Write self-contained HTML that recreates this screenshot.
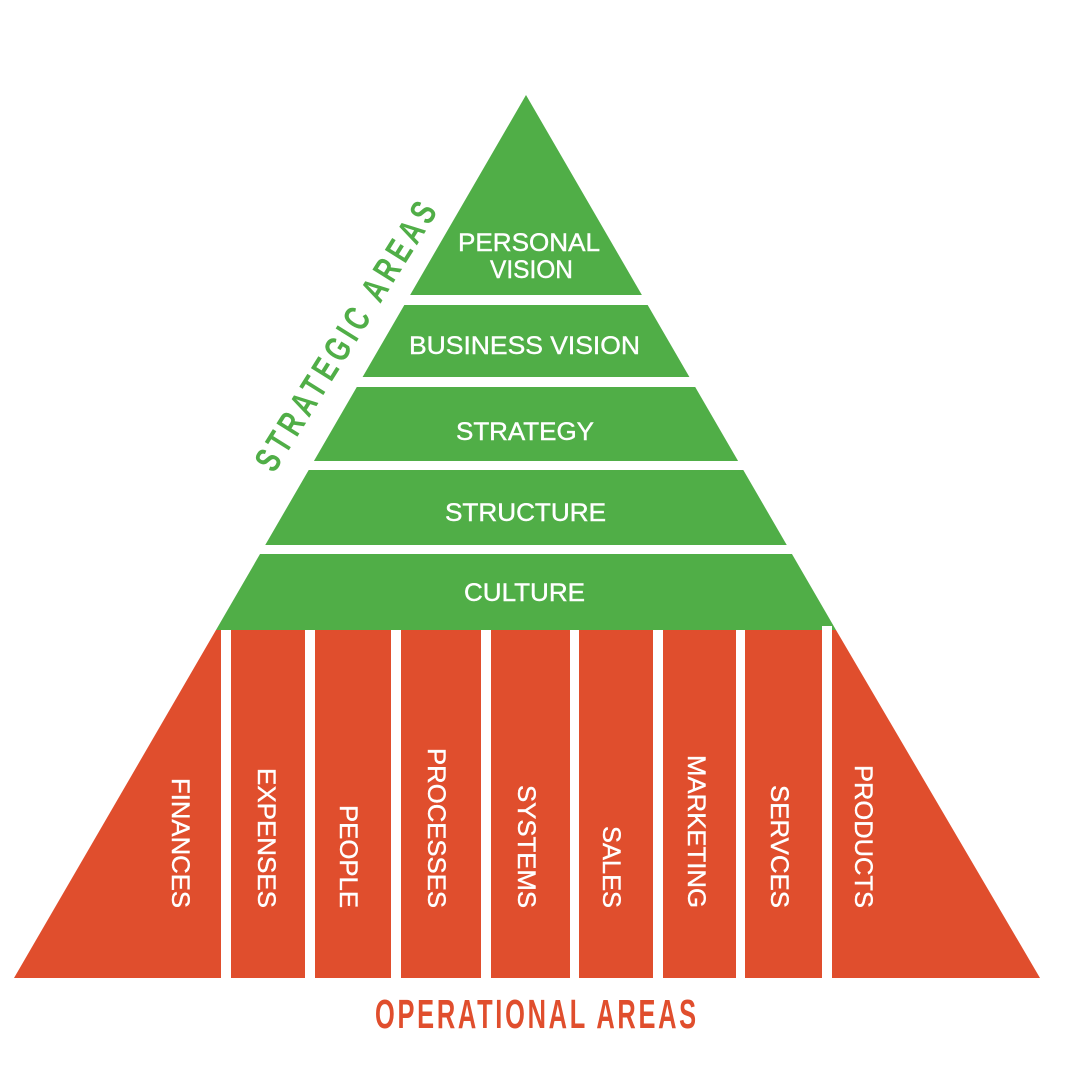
<!DOCTYPE html>
<html><head><meta charset="utf-8"><style>
html,body{margin:0;padding:0;background:#fff;}
svg{display:block;}
text{font-family:"Liberation Sans",Arial,sans-serif;}
</style></head><body>
<svg width="1080" height="1080" viewBox="0 0 1080 1080" xmlns="http://www.w3.org/2000/svg">
<rect width="1080" height="1080" fill="#fff"/>
<polygon points="216,630 836,630 1040,978 14,978" fill="#e04e2d"/>
<polygon points="526,95 836,630 216,630" fill="#50ae47"/>
<g fill="#fff">
<rect x="300" y="295" width="500" height="10"/>
<rect x="250" y="377" width="600" height="10"/>
<rect x="200" y="461" width="700" height="9"/>
<rect x="150" y="545" width="800" height="9"/>
<rect x="221" y="630" width="10" height="350"/>
<rect x="305" y="630" width="10" height="350"/>
<rect x="391" y="630" width="10" height="350"/>
<rect x="481" y="630" width="10" height="350"/>
<rect x="570" y="630" width="9" height="350"/>
<rect x="653" y="630" width="10" height="350"/>
<rect x="736" y="630" width="9" height="350"/>
<rect x="822" y="626" width="10" height="354"/>
</g>
<g fill="#fff" font-size="25" stroke="#fff" stroke-width="0.4">
<text x="458" y="251" textLength="142" lengthAdjust="spacingAndGlyphs">PERSONAL</text>
<text x="490" y="278" textLength="83" lengthAdjust="spacingAndGlyphs">VISION</text>
<text x="409" y="354" textLength="231" lengthAdjust="spacingAndGlyphs">BUSINESS VISION</text>
<text x="456" y="440" textLength="138" lengthAdjust="spacingAndGlyphs">STRATEGY</text>
<text x="445" y="521" textLength="161" lengthAdjust="spacingAndGlyphs">STRUCTURE</text>
<text x="464" y="601" textLength="121" lengthAdjust="spacingAndGlyphs">CULTURE</text>
</g>
<g fill="#fff" font-size="25" stroke="#fff" stroke-width="0.4" text-anchor="end">
<text transform="translate(172,908) rotate(90)" textLength="130" lengthAdjust="spacingAndGlyphs">FINANCES</text>
<text transform="translate(258,908) rotate(90)" textLength="140" lengthAdjust="spacingAndGlyphs">EXPENSES</text>
<text transform="translate(340,908) rotate(90)" textLength="103" lengthAdjust="spacingAndGlyphs">PEOPLE</text>
<text transform="translate(428,908) rotate(90)" textLength="160" lengthAdjust="spacingAndGlyphs">PROCESSES</text>
<text transform="translate(518,908) rotate(90)" textLength="123" lengthAdjust="spacingAndGlyphs">SYSTEMS</text>
<text transform="translate(603,908) rotate(90)" textLength="82" lengthAdjust="spacingAndGlyphs">SALES</text>
<text transform="translate(688,908) rotate(90)" textLength="153" lengthAdjust="spacingAndGlyphs">MARKETING</text>
<text transform="translate(771,908) rotate(90)" textLength="123" lengthAdjust="spacingAndGlyphs">SERVCES</text>
<text transform="translate(855,908) rotate(90)" textLength="143" lengthAdjust="spacingAndGlyphs">PRODUCTS</text>
</g>
<text transform="translate(274,474) rotate(-58) scale(0.72,1)" fill="#50ae47" font-size="36" font-weight="bold" textLength="430" lengthAdjust="spacing">STRATEGIC AREAS</text>
<text transform="translate(375,1028) scale(0.62,1)" fill="#e04e2d" font-size="41" font-weight="bold" textLength="518" lengthAdjust="spacing">OPERATIONAL AREAS</text>
</svg>
</body></html>
